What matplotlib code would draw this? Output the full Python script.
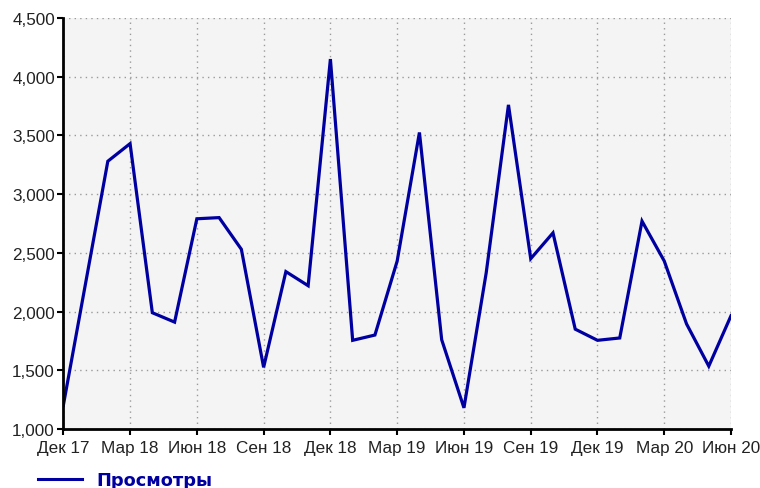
import matplotlib
matplotlib.use("Agg")
import matplotlib.pyplot as plt
from matplotlib.ticker import FuncFormatter, MultipleLocator
from matplotlib.lines import Line2D

plt.rcParams['font.family'] = ['Liberation Sans', 'DejaVu Sans']

# monthly views, Dec 2017 .. Jun 2020
months = list(range(31))
views = [1200, 2240, 3280, 3430, 1990, 1910, 2790, 2800, 2530, 1525,
         2340, 2220, 4150, 1755, 1800, 2430, 3525, 1760, 1180, 2330,
         3760, 2450, 2670, 1850, 1755, 1775, 2770, 2430, 1895, 1535,
         1965]
tick_pos = list(range(0, 31, 3))
tick_labels = ["Дек 17", "Мар 18", "Июн 18", "Сен 18", "Дек 18", "Мар 19",
               "Июн 19", "Сен 19", "Дек 19", "Мар 20", "Июн 20"]
series_name = "Просмотры"

LINE = "#0000a0"

fig = plt.figure(figsize=(7.6, 4.89), dpi=100)
ax = fig.add_axes([0.0833, 0.1207, 0.8786, 0.8405])
ax.set_facecolor("#f4f4f4")

ax.plot(months, views, color=LINE, lw=2.3, solid_joinstyle="miter")

ax.set_xlim(0, 30)
ax.set_ylim(1000, 4500)
ax.yaxis.set_major_locator(MultipleLocator(500))
ax.yaxis.set_major_formatter(FuncFormatter(lambda v, p: f"{v:,.0f}"))
ax.set_xticks(tick_pos)
ax.set_xticklabels(tick_labels)

ax.grid(True, color="#9a9a9a", linestyle=(0, (1, 3)), linewidth=1.0)
ax.set_axisbelow(True)
for s in ("top", "right"):
    ax.spines[s].set_visible(False)
for s in ("left", "bottom"):
    ax.spines[s].set_linewidth(2.0)
    ax.spines[s].set_color("black")

ax.tick_params(axis="both", length=4, width=1.5, color="black",
               labelsize=12.3, labelcolor="#222222")
ax.tick_params(axis="x", pad=4)
ax.tick_params(axis="y", pad=2)

handle = Line2D([], [], color=LINE, lw=2.2)
leg = fig.legend([handle], [series_name], loc="center left",
                 bbox_to_anchor=(0.029, 0.016), frameon=False,
                 handlelength=2.5, handletextpad=0.8,
                 prop={"family": "DejaVu Sans", "size": 12.8, "weight": "bold"})
leg.get_texts()[0].set_color(LINE)

fig.savefig("out.png", dpi=100)
